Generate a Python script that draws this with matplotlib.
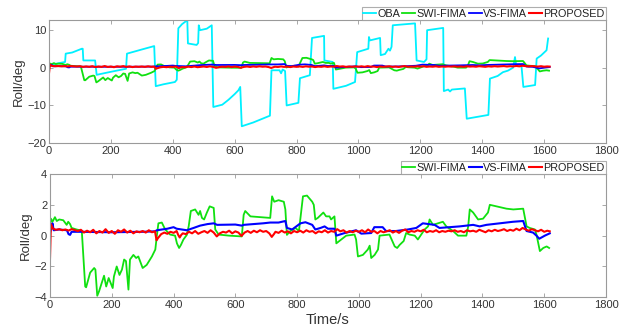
import matplotlib
matplotlib.use("Agg")
import matplotlib.pyplot as plt

plt.rcParams['font.family'] = ['Liberation Sans', 'DejaVu Sans']

# ---- OBA (top panel only) ----
oba_t = [0, 20, 52, 54, 75, 106, 109, 111, 149, 154, 200, 249, 252, 300, 340, 345, 370, 407, 413,
         418, 430, 443, 447, 449, 477, 482, 484, 488, 510, 526, 531, 560, 580, 600, 612, 618, 623,
         660, 714, 719, 745, 750, 755, 763, 768, 806, 811, 843, 850, 889, 890, 917, 919, 960, 989,
         996, 1032, 1034, 1037, 1070, 1072, 1086, 1097, 1102, 1107, 1111, 1183, 1188, 1200, 1212,
         1220, 1222, 1274, 1276, 1290, 1296, 1302, 1344, 1350, 1420, 1425, 1450, 1467, 1483, 1500,
         1506, 1510, 1527, 1533, 1571, 1576, 1590, 1608, 1613]
oba_v = [0.6, 1.0, 1.5, 3.7, 4.0, 5.0, 5.0, 1.9, 1.9, -1.9, -1.1, -0.3, 3.7, 4.8, 5.7, -4.9, -4.4, -3.8, -3.2,
         10.4, 11.5, 12.3, 12.5, 6.4, 6.0, 6.5, 11.2, 9.9, 10.3, 11.2, -10.4, -9.8, -8.5, -7.0, -6.0, -5.1, -15.5,
         -14.5, -12.7, -0.7, -0.7, -1.5, -0.5, -0.9, -10.0, -9.3, -2.8, -2.0, 7.85, 8.4, 1.9, 1.5, -5.6, -4.8, -3.8,
         4.1, 5.0, 8.1, 7.2, 7.85, 3.3, 3.6, 5.0, 4.5, 5.5, 11.2, 11.7, 1.9, 1.7, 1.5,
         2.2, 9.9, 10.5, -6.2, -5.8, -6.3, -5.8, -5.5, -13.5, -12.5, -2.9, -2.2, -1.2, -0.8, 0.0,
         2.8, 0.4, 0.4, -5.1, -4.6, 2.4, 3.2, 4.6, 7.7]

# ---- SWI-FIMA ----
swi_t = [0, 3, 8, 16, 22, 30, 43, 54, 59, 65, 70, 86, 97, 103, 108, 114, 117, 130, 143, 147, 153, 159,
         167, 175, 182, 190, 197, 203, 207, 216, 225, 233, 240, 246, 254, 259, 270, 279, 286, 300, 313,
         330, 341, 346, 351, 362, 373, 389, 405, 411, 418, 424, 432, 443, 449, 456, 470, 481, 486, 492,
         499, 508, 517, 530, 535, 546, 580, 621, 627, 632, 649, 681, 713, 719, 726, 740, 757, 762, 767,
         778, 795, 806, 819, 832, 849, 854, 859, 867, 885, 894, 905, 910, 921, 927, 943, 959, 986, 991,
         997, 1013, 1029, 1035, 1040, 1051, 1062, 1067, 1099, 1116, 1124, 1132, 1145, 1153, 1164, 1181,
         1191, 1213, 1224, 1229, 1240, 1256, 1272, 1283, 1305, 1321, 1348, 1354, 1359, 1370, 1386, 1402,
         1418, 1424, 1445, 1478, 1500, 1532, 1543, 1553, 1570, 1575, 1586, 1597, 1608, 1616]
swi_v = [0.5, 1.1, 0.9, 1.2, 0.95, 1.05, 1.0, 0.7, 0.9, 0.75, 0.5, 0.4, 0.35, 0.3, -1.3, -3.3, -3.35, -2.4,
         -2.1, -2.2, -3.9, -3.6, -3.1, -2.6, -3.3, -2.75, -3.1, -3.4, -2.65, -2.0, -2.55, -2.2, -1.55, -1.65,
         -3.5, -1.55, -1.25, -1.45, -1.35, -2.1, -1.9, -1.35, -0.9, 0.0, 0.8, 0.85, 0.4, 0.07, 0.0, -0.5,
         -0.8, -0.6, -0.25, 0.05, 0.6, 1.6, 1.7, 1.35, 1.6, 1.15, 1.05, 1.5, 1.9, 1.8, 0.4, 0.07, 0.0, -0.05,
         1.35, 1.6, 1.25, 1.2, 1.15, 2.55, 2.2, 2.3, 2.2, 1.7, 0.05, 0.3, 0.5, 0.3, 2.55, 2.6, 2.2, 2.0, 1.05,
         1.15, 1.5, 1.25, 1.25, 1.05, 1.25, -0.5, -0.25, 0.0, 0.07, -0.25, -1.35, -1.25, -0.9, -0.65, -1.45,
         -1.25, -0.9, 0.0, 0.07, -0.7, -0.8, -0.6, -0.35, 0.17, 0.07, 0.0, -0.25, 0.4, 0.6, 1.05, 0.7, 0.8,
         0.9, 0.6, 0.3, 0.0, 0.0, 0.6, 1.7, 1.5, 1.05, 1.1, 1.5, 2.0, 1.9, 1.75, 1.7, 1.75, 0.6, 0.5, 0.4,
         0.07, -1.0, -0.8, -0.7, -0.8]

# ---- VS-FIMA ----
vs_t = [0, 5, 8, 12, 30, 55, 60, 65, 70, 100, 200, 300, 340, 346, 380, 400, 410, 443, 465, 486, 510, 530,
        541, 600, 621, 627, 690, 713, 740, 762, 767, 784, 811, 827, 849, 859, 876, 889, 900, 921, 927, 954,
        991, 1008, 1040, 1050, 1077, 1088, 1120, 1159, 1186, 1207, 1245, 1261, 1294, 1326, 1370, 1391, 1413,
        1456, 1499, 1532, 1543, 1564, 1575, 1584, 1602, 1618]
vs_v = [0.2, 0.5, 0.8, 0.35, 0.4, 0.35, 0.1, 0.05, 0.25, 0.25, 0.22, 0.25, 0.28, 0.35, 0.45, 0.55, 0.45, 0.35,
        0.5, 0.65, 0.75, 0.8, 0.7, 0.72, 0.65, 0.7, 0.8, 0.85, 0.85, 0.95, 0.5, 0.4, 0.8, 0.87, 0.7, 0.4, 0.5,
        0.6, 0.45, 0.45, 0.0, 0.17, 0.35, 0.13, 0.17, 0.55, 0.55, 0.3, 0.3, 0.4, 0.5, 0.8, 0.7, 0.5, 0.55, 0.6,
        0.7, 0.6, 0.7, 0.8, 0.9, 0.95, 0.3, 0.2, 0.0, -0.2, 0.0, 0.15]

# ---- PROPOSED ----
pr_t = [0, 3, 10, 20, 30, 40, 50, 60, 70, 80, 90, 100, 110, 120, 130, 140, 150, 160, 170, 180, 190, 200,
        210, 220, 230, 240, 250, 260, 270, 280, 290, 300, 310, 320, 330, 340, 345, 350, 360, 370, 380, 390,
        400, 410, 415, 420, 425, 430, 440, 450, 460, 470, 480, 490, 500, 510, 520, 530, 540, 550, 560, 570,
        580, 590, 600, 610, 620, 630, 640, 650, 660, 670, 680, 690, 700, 710, 718, 725, 730, 740, 750, 760,
        770, 780, 790, 800, 810, 820, 830, 840, 850, 860, 870, 880, 890, 900, 910, 920, 930, 940, 950, 960,
        970, 980, 990, 1000, 1010, 1020, 1030, 1040, 1050, 1060, 1070, 1080, 1090, 1100, 1110, 1120, 1130,
        1140, 1150, 1160, 1170, 1180, 1190, 1200, 1210, 1220, 1230, 1240, 1250, 1260, 1270, 1280, 1290, 1300,
        1310, 1320, 1330, 1340, 1350, 1360, 1370, 1380, 1390, 1400, 1410, 1420, 1430, 1440, 1450, 1460, 1470,
        1480, 1490, 1500, 1510, 1520, 1530, 1540, 1550, 1560, 1570, 1580, 1590, 1600, 1610, 1618]
pr_v = [-1.5, 0.75, 0.45, 0.38, 0.42, 0.35, 0.4, 0.33, 0.42, 0.36, 0.3, 0.38, 0.2, 0.32, 0.22, 0.38, 0.15,
        0.3, 0.2, 0.42, 0.18, 0.3, 0.12, 0.35, 0.25, 0.4, 0.2, 0.32, 0.15, 0.28, 0.22, 0.3, 0.2, 0.35, 0.22,
        0.28, -0.3, -0.15, 0.1, 0.2, 0.12, 0.25, 0.18, 0.3, 0.05, -0.12, 0.05, 0.15, 0.1, 0.25, 0.15, 0.3,
        0.12, 0.22, 0.3, 0.18, 0.35, 0.2, -0.05, 0.15, 0.25, 0.2, 0.32, 0.15, 0.28, 0.2, -0.02, 0.2, 0.3,
        0.18, 0.32, 0.22, 0.35, 0.25, 0.3, 0.15, -0.08, 0.1, 0.25, 0.18, 0.32, 0.2, 0.28, 0.15, 0.3, 0.22,
        0.32, 0.2, 0.35, 0.25, 0.3, 0.15, 0.28, 0.22, 0.35, 0.2, 0.3, 0.25, 0.42, 0.28, 0.35, 0.2, 0.3, 0.22,
        0.32, 0.25, 0.35, 0.22, 0.4, 0.25, 0.3, 0.15, 0.3, 0.22, 0.28, 0.35, 0.2, 0.3, 0.18, 0.32, 0.4, 0.22,
        0.3, 0.25, 0.35, 0.28, 0.38, 0.22, 0.3, 0.25, 0.35, 0.22, 0.3, 0.25, 0.32, 0.28, 0.35, 0.25, 0.3,
        0.22, 0.35, 0.28, 0.32, 0.25, 0.38, 0.3, 0.22, 0.35, 0.28, 0.38, 0.3, 0.35, 0.42, 0.3, 0.38, 0.32,
        0.45, 0.35, 0.5, 0.4, 0.32, 0.42, 0.35, 0.28, 0.38, 0.25, 0.32, 0.28]

x_ticks = [0, 200, 400, 600, 800, 1000, 1200, 1400, 1600, 1800]
top_yticks = [-20, -10, 0, 10]
bot_yticks = [-4, -2, 0, 2, 4]

C_CYAN = '#00F0FF'
C_GREEN = '#10E010'
C_BLUE = '#0000FF'
C_RED = '#FF0000'
SPINE = '#9a9a9a'
TXT = '#333333'

fig = plt.figure(figsize=(6.21, 3.33), dpi=100)
ax1 = fig.add_axes([0.0789, 0.5697, 0.8969, 0.3703])
ax2 = fig.add_axes([0.0805, 0.1072, 0.8953, 0.3703])

lw = 1.3
ax1.plot(oba_t, oba_v, color=C_CYAN, lw=lw, label='OBA')
ax1.plot(swi_t, swi_v, color=C_GREEN, lw=lw, label='SWI-FIMA')
ax1.plot(vs_t, vs_v, color=C_BLUE, lw=lw, label='VS-FIMA')
ax1.plot(pr_t, pr_v, color=C_RED, lw=lw + 0.2, label='PROPOSED')

ax2.plot(swi_t, swi_v, color=C_GREEN, lw=lw, label='SWI-FIMA')
ax2.plot(vs_t, vs_v, color=C_BLUE, lw=lw + 0.2, label='VS-FIMA')
ax2.plot(pr_t, pr_v, color=C_RED, lw=lw + 0.2, label='PROPOSED')

ax1.set_ylim(-20, 12.6)
ax1.set_yticks(top_yticks)
ax2.set_ylim(-4, 4)
ax2.set_yticks(bot_yticks)

for ax in (ax1, ax2):
    ax.set_xlim(0, 1800)
    ax.set_xticks(x_ticks)
    ax.tick_params(direction='in', length=3, width=0.6, colors=SPINE, labelcolor=TXT,
                   labelsize=8, top=True, right=True, pad=2)
    for s in ax.spines.values():
        s.set_color(SPINE)
        s.set_linewidth(0.8)
    ax.set_ylabel('Roll/deg', fontsize=9.5, color=TXT, labelpad=2)
    leg = ax.legend(loc='lower right', bbox_to_anchor=(1.0, 1.0), ncol=4 if ax is ax1 else 3,
                    fontsize=7.8, frameon=True, fancybox=False, handlelength=1.2,
                    handletextpad=0.12, columnspacing=0.2, borderpad=0.12, borderaxespad=0.0)
    leg.get_frame().set_edgecolor(SPINE)
    leg.get_frame().set_linewidth(0.8)
    for t in leg.get_texts():
        t.set_color('#222222')

ax2.set_xlabel('Time/s', fontsize=10.5, color=TXT, labelpad=2)

fig.savefig('out.png', dpi=100)
